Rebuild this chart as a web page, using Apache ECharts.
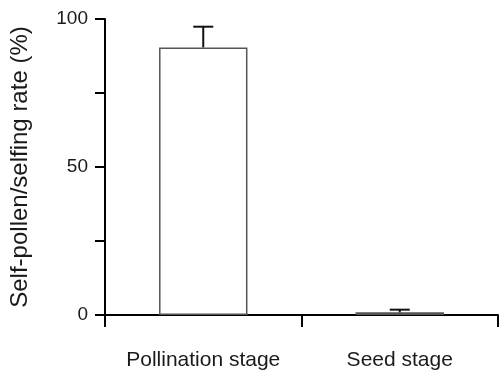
<!DOCTYPE html>
<html><head><meta charset="utf-8">
<script src="https://cdn.jsdelivr.net/npm/echarts@6/dist/echarts.min.js"></script>
<style>html,body{margin:0;padding:0;background:#fff}#c{width:499px;height:371px}</style>
</head><body><div id="c"></div>
<script>
var categories = ['Pollination stage', 'Seed stage'];
var means = [90.4, 0.9];
var upperErrors = [7.0, 0.9];
var yTickLabels = {0: '0', 50: '50', 100: '100'};

var chart = echarts.init(document.getElementById('c'), null, {renderer: 'canvas'});
var font = 'Liberation Sans, Arial, Helvetica, sans-serif';
var errData = categories.map(function (c, i) { return [i, means[i], means[i] + upperErrors[i]]; });

chart.setOption({
  animation: false,
  grid: {left: 103, right: 1, top: 19, bottom: 56, containLabel: false},
  xAxis: {
    type: 'category', data: categories, boundaryGap: true,
    axisLine: {lineStyle: {color: '#000', width: 2}},
    axisTick: {show: true, length: 12, interval: 0, alignWithLabel: false, lineStyle: {color: '#000', width: 2}},
    axisLabel: {color: '#1a1a1a', fontSize: 21, fontFamily: font, margin: 35, interval: 0}
  },
  yAxis: {
    type: 'value', min: 0, max: 100, interval: 25,
    name: 'Self-pollen/selfing rate (%)', nameLocation: 'middle', nameGap: 73,
    nameTextStyle: {color: '#1a1a1a', fontSize: 24, fontFamily: font},
    axisLine: {show: true, lineStyle: {color: '#000', width: 2}},
    axisTick: {show: true, length: 10, lineStyle: {color: '#000', width: 2}},
    splitLine: {show: false},
    axisLabel: {color: '#1a1a1a', fontSize: 19, fontFamily: font, margin: 17,
      formatter: function (v) { return yTickLabels[v] !== undefined ? yTickLabels[v] : ''; }}
  },
  series: [{
    type: 'bar', data: means, barWidth: '45%',
    itemStyle: {color: '#fff', borderColor: '#555', borderWidth: 1.5},
    z: 2
  }, {
    type: 'custom', data: errData, z: 3,
    renderItem: function (params, api) {
      var x = api.value(0);
      var lo = api.coord([x, api.value(1)]);
      var hi = api.coord([x, api.value(2)]);
      var half = 10;
      return {type: 'group', children: [
        {type: 'line', shape: {x1: lo[0], y1: lo[1], x2: hi[0], y2: hi[1]}, style: {stroke: '#111', lineWidth: 2}},
        {type: 'line', shape: {x1: hi[0] - half, y1: hi[1], x2: hi[0] + half, y2: hi[1]}, style: {stroke: '#111', lineWidth: 2}}
      ]};
    }
  }]
});
</script></body></html>
